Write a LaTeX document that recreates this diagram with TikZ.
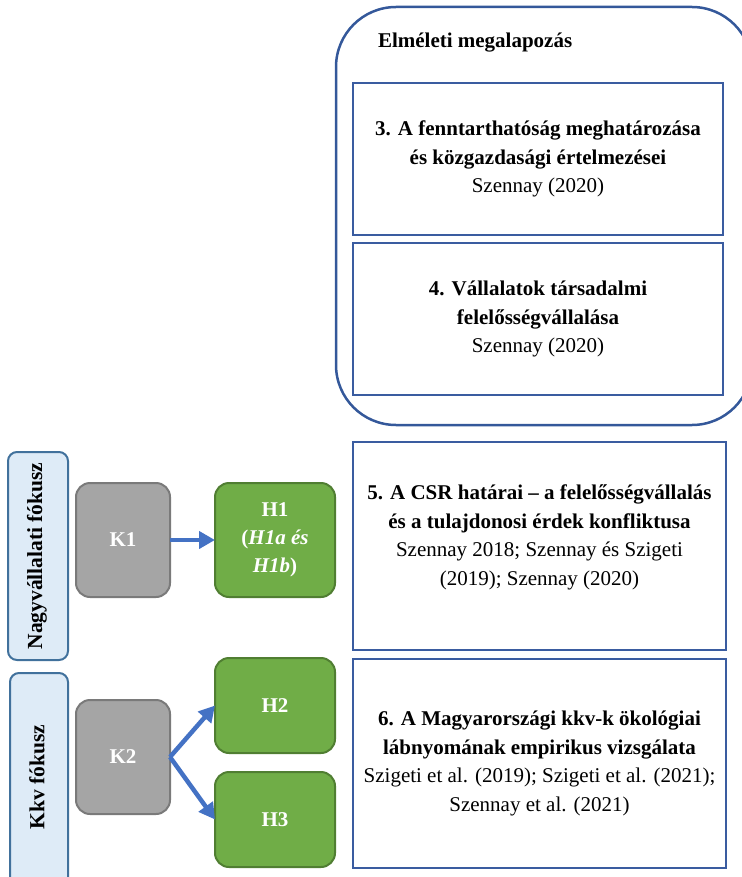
\documentclass[tikz,border=0pt]{standalone}
\usepackage{fontspec}
\setmainfont{Liberation Serif}
\usetikzlibrary{arrows.meta}
\definecolor{frameblue}{HTML}{34589A}
\definecolor{boxblue}{HTML}{3A5CA0}
\definecolor{focusline}{HTML}{41719C}
\definecolor{focusfill}{HTML}{DEEBF7}
\definecolor{kgray}{HTML}{A5A5A5}
\definecolor{kgrayline}{HTML}{7A7A7A}
\definecolor{hgreen}{HTML}{70AD47}
\definecolor{hgreenline}{HTML}{507E32}
\definecolor{arrowblue}{HTML}{4472C4}
\begin{document}
\begin{tikzpicture}[x=1pt,y=-1pt,
  every node/.style={font=\fontsize{21}{28.5}\selectfont, align=center, inner sep=0pt, outer sep=0pt},
  chapter/.style={draw=boxblue, line width=2.5pt},
  focus/.style={draw=focusline, fill=focusfill, line width=2pt, rounded corners=9pt},
  kbox/.style={draw=kgrayline, fill=kgray, line width=2pt, rounded corners=14pt,
    minimum width=94pt, minimum height=114pt, text=white, font=\fontsize{21}{28}\selectfont\bfseries},
  hbox/.style={draw=hgreenline, fill=hgreen, line width=2pt, rounded corners=14pt,
    minimum width=120pt, text=white, font=\fontsize{21}{28}\selectfont\bfseries},
  link/.style={-{Triangle[length=16pt,width=17pt]}, line width=4.5pt, arrowblue}]
  \useasboundingbox (0,0) rectangle (741,877);
  % Theory frame
  \node[draw=frameblue, line width=2.5pt, rounded corners=60pt,
    minimum width=416pt, minimum height=418pt] (theory) at (544,216) {};
  \node[anchor=west, font=\fontsize{21}{24}\selectfont\bfseries] (theorytitle) at (378,43) {Elméleti megalapozás};
  % Chapters
  \node[chapter, minimum width=370pt, minimum height=152pt] (ch3) at (538,159)
    {\textbf{3. A fenntarthatóság meghatározása}\\ \textbf{és közgazdasági értelmezései}\\ Szennay (2020)};
  \node[chapter, minimum width=370pt, minimum height=152pt] (ch4) at (538,319)
    {\textbf{4. Vállalatok társadalmi}\\ \textbf{felelősségvállalása}\\ Szennay (2020)};
  \node[chapter, minimum width=373pt, minimum height=208pt] (ch5) at (539.5,546)
    {\textbf{5. A CSR határai -- a felelősségvállalás}\\ \textbf{és a tulajdonosi érdek konfliktusa}\\ Szennay 2018; Szennay és Szigeti\\ (2019); Szennay (2020)\\[-7pt]};
  \node[chapter, minimum width=373pt, minimum height=209pt] (ch6) at (539.5,763.5)
    {\textbf{6. A Magyarországi kkv-k ökológiai}\\ \textbf{lábnyomának empirikus vizsgálata}\\ Szigeti et al. (2019); Szigeti et al. (2021);\\ Szennay et al. (2021)};
  % Focus labels
  \node[focus, minimum width=60pt, minimum height=208pt] (large) at (38,556) {};
  \node[rotate=90, font=\fontsize{21.5}{24}\selectfont\bfseries] (largetext) at (37,556) {Nagyvállalati fókusz};
  \node[focus, minimum width=58pt, minimum height=216pt] (sme) at (39,781) {};
  \node[rotate=90, font=\fontsize{21.5}{24}\selectfont\bfseries] (smetext) at (37,777) {Kkv fókusz};
  % Questions and hypotheses
  \node[kbox] (K1) at (123,540) {K1};
  \node[hbox, minimum height=114pt] (H1) at (275,540) {H1\\ (\textit{H1a és}\\ \textit{H1b})};
  \node[kbox] (K2) at (123,757) {K2};
  \node[hbox, minimum height=95pt] (H2) at (275,705.5) {H2};
  \node[hbox, minimum height=95pt] (H3) at (275,819.5) {H3};
  % Arrows
  \foreach \x/\y in {K1/H1,K2/H2,K2/H3}
    \draw[link] (\x.east) -- (\y.west);
\end{tikzpicture}
\end{document}
